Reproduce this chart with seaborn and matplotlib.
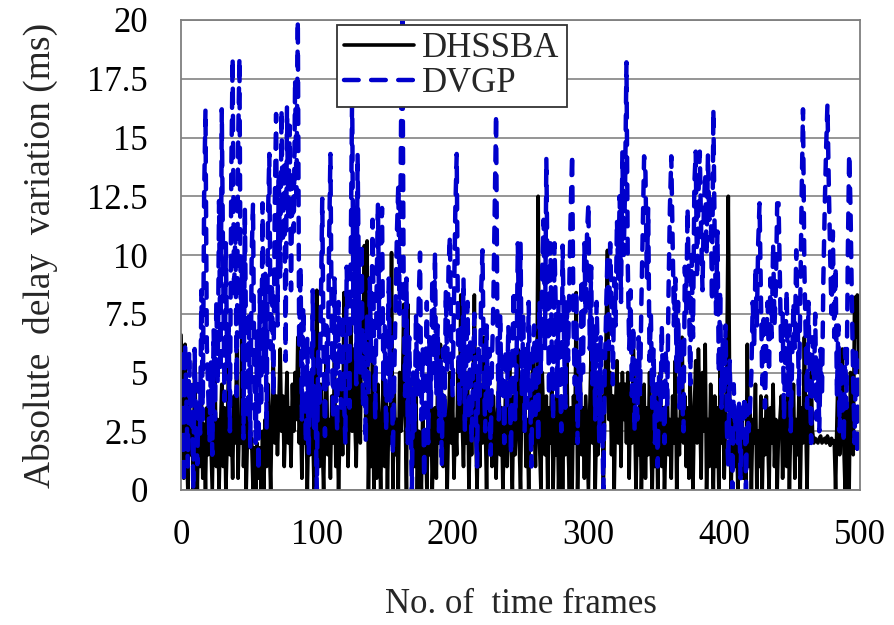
import numpy as np
import pandas as pd
import seaborn as sns
import matplotlib.pyplot as plt

# absolute delay variation per time frame (ms)
dhssba = [
    6.6, 3.5, 0.5, 6.2, 2.0, 0.0, 4.5, 1.5, 3.0, 0.0,
    5.5, 2.5, 0.0, 3.5, 1.0, 4.0, 0.5, 2.8, 0.0, 3.5,
    1.5, 4.0, 2.0, 0.0, 3.5, 5.0, 1.0, 3.0, 0.0, 2.5,
    4.5, 1.0, 3.5, 0.0, 2.0, 5.5, 1.5, 3.0, 0.5, 4.0,
    2.0, 6.0, 0.5, 3.0, 2.0, 8.4, 1.0, 3.5, 0.0, 2.5,
    4.0, 1.8, 2.2, 0.0, 1.8, 0.0, 2.0, 0.5, 1.8, 0.0,
    2.5, 0.0, 3.0, 1.0, 4.5, 2.0, 0.0, 3.5, 5.5, 2.0,
    4.0, 1.5, 3.5, 6.0, 2.5, 4.0, 1.0, 3.0, 5.0, 2.0,
    3.5, 1.0, 4.5, 2.5, 5.0, 3.0, 6.5, 2.0, 3.5, 0.5,
    4.0, 2.0, 3.5, 0.0, 3.0, 1.5, 4.0, 2.5, 0.0, 5.0,
    8.5, 3.0, 1.0, 4.5, 2.0, 0.0, 3.5, 6.0, 1.5, 3.0,
    0.5, 4.0, 2.0, 5.5, 1.0, 3.0, 0.0, 2.5, 4.5, 1.5,
    8.4, 3.0, 5.5, 1.0, 4.0, 7.0, 2.5, 6.0, 3.0, 1.0,
    4.5, 7.5, 2.0, 8.0, 5.0, 10.4, 3.0, 10.6, 0.0, 4.0,
    1.0, 5.5, 0.0, 3.5, 0.5, 4.5, 2.0, 0.0, 3.0, 5.0,
    1.0, 4.0, 0.0, 3.5, 2.0, 10.1, 0.0, 4.5, 1.5, 3.0,
    0.0, 5.0, 2.5, 4.0, 7.9, 3.5, 0.0, 7.9, 2.0, 4.5,
    0.5, 3.0, 1.0, 4.0, 0.0, 2.5, 1.5, 0.0, 3.5, 1.0,
    2.5, 0.0, 3.0, 1.5, 4.0, 0.0, 2.0, 3.5, 0.5, 5.0,
    2.0, 6.2, 3.5, 1.0, 4.0, 2.5, 0.0, 3.0, 5.0, 2.0,
    4.0, 0.5, 3.0, 1.5, 5.5, 2.5, 8.3, 3.0, 1.0, 4.5,
    2.0, 5.0, 0.0, 3.5, 1.5, 4.0, 8.3, 2.5, 0.0, 3.5,
    1.0, 4.0, 2.0, 6.5, 3.0, 0.0, 4.5, 2.0, 3.5, 1.0,
    4.0, 2.5, 0.5, 3.0, 5.0, 1.5, 3.5, 0.0, 2.5, 4.0,
    1.0, 3.0, 5.5, 2.0, 0.0, 4.0, 1.5, 3.5, 6.0, 2.0,
    0.0, 4.5, 2.5, 5.0, 1.0, 3.0, 0.0, 4.0, 2.0, 5.5,
    3.0, 1.0, 4.0, 12.5, 2.0, 0.0, 5.0, 3.0, 1.5, 4.0,
    0.0, 3.5, 2.0, 5.0, 0.0, 3.0, 1.5, 4.5, 0.0, 2.5,
    4.0, 0.0, 3.5, 1.5, 6.0, 2.0, 0.0, 3.5, 0.0, 4.0,
    2.0, 8.4, 0.0, 3.0, 5.0, 1.5, 3.5, 0.5, 4.0, 2.0,
    0.0, 3.5, 6.0, 2.0, 4.5, 0.0, 3.0, 1.5, 5.0, 2.5,
    4.0, 0.0, 3.5, 6.5, 10.2, 3.0, 5.0, 1.5, 4.0, 0.0,
    3.5, 5.5, 2.0, 4.5, 1.0, 5.0, 3.0, 4.5, 2.0, 5.0,
    0.5, 4.0, 2.0, 6.5, 3.5, 0.0, 3.0, 1.5, 4.0, 0.0,
    2.5, 4.5, 0.5, 3.5, 1.5, 5.0, 2.0, 0.0, 3.5, 1.0,
    4.0, 0.0, 2.5, 5.0, 1.0, 3.5, 0.0, 2.0, 4.5, 1.5,
    3.0, 0.5, 4.0, 2.0, 5.5, 0.0, 3.0, 1.5, 4.0, 6.5,
    2.0, 4.0, 1.0, 3.5, 0.5, 4.5, 2.0, 0.0, 3.5, 5.5,
    2.0, 6.0, 3.5, 0.5, 5.0, 2.5, 6.2, 0.0, 3.0, 1.0,
    4.5, 2.0, 0.0, 4.0, 1.0, 3.5, 0.0, 5.5, 2.0, 4.0,
    0.5, 3.0, 6.0, 12.5, 4.0, 0.0, 2.0, 3.5, 1.0, 3.0,
    0.0, 2.5, 1.5, 3.0, 0.5, 2.0, 0.0, 6.2, 1.0, 3.5,
    0.0, 3.0, 2.0, 4.5, 0.0, 2.5, 1.0, 4.0, 0.0, 3.0,
    1.5, 4.0, 2.5, 0.0, 3.5, 2.0, 4.5, 1.0, 3.0, 0.0,
    2.5, 3.0, 4.0, 0.5, 3.5, 2.0, 1.0, 4.0, 0.0, 3.0,
    2.0, 4.5, 0.5, 3.0, 1.5, 4.0, 0.0, 3.5, 2.0, 6.5,
    3.0, 0.0, 4.0, 2.0, 5.0, 2.5, 2.0, 2.2, 2.1, 2.0,
    2.2, 2.3, 2.0, 2.1, 2.2, 2.0, 2.3, 2.1, 1.9, 2.2,
    2.0, 2.1, 0.0, 3.0, 5.5, 1.5, 3.0, 6.0, 2.0, 0.0,
    3.5, 2.0, 0.0, 5.0, 3.0, 1.5, 8.2, 6.5, 8.3, 5.0,
]

dvgp = [
    5.8, 2.1, 0.3, 6.2, 3.5, 1.0, 5.9, 2.8, 4.6, 0.0,
    6.0, 3.2, 1.1, 4.5, 2.4, 8.5, 3.0, 12.5, 16.2, 6.1,
    4.2, 2.0, 5.5, 1.5, 6.8, 3.0, 8.0, 4.5, 12.3, 5.0,
    16.2, 9.5, 3.8, 10.5, 5.2, 7.0, 2.5, 13.5, 18.4, 8.2,
    11.0, 4.0, 14.5, 18.4, 6.5, 9.8, 2.2, 12.0, 5.5, 3.0,
    7.5, 1.8, 10.0, 12.2, 4.4, 2.0, 6.8, 0.8, 8.5, 3.5,
    12.2, 5.0, 9.2, 2.6, 11.5, 14.3, 6.0, 8.8, 4.0, 12.0,
    16.0, 7.0, 13.5, 9.0, 16.2, 10.5, 14.0, 5.5, 16.3, 11.5,
    15.5, 8.5, 13.2, 11.0, 17.5, 12.5, 20.0, 6.0, 9.5, 3.0,
    7.8, 4.5, 2.0, 6.5, 1.5, 5.0, 3.0, 8.5, 2.5, 4.0,
    0.0, 6.0, 3.5, 8.0, 12.4, 5.5, 2.3, 7.0, 4.5, 10.5,
    14.3, 6.5, 3.0, 9.0, 4.5, 2.5, 8.0, 5.0, 3.5, 7.5,
    4.0, 2.0, 9.5, 5.8, 3.5, 10.0, 17.0, 7.0, 12.0, 4.5,
    14.3, 8.5, 5.0, 10.5, 3.5, 6.8, 2.0, 7.5, 4.0, 9.0,
    5.5, 11.5, 7.0, 3.0, 8.5, 12.2, 6.5, 9.5, 12.0, 4.5,
    7.0, 2.5, 5.5, 9.0, 3.8, 6.5, 1.5, 4.8, 8.0, 11.0,
    13.0, 7.5, 15.5, 20.0, 8.0, 4.0, 9.0, 2.0, 6.5, 3.5,
    0.0, 5.0, 2.5, 7.5, 4.0, 8.0, 10.1, 3.0, 6.0, 0.5,
    4.5, 8.0, 2.0, 6.5, 3.5, 9.0, 5.0, 10.1, 4.0, 7.0,
    2.5, 5.5, 1.0, 6.0, 3.0, 8.5, 5.0, 9.5, 10.8, 6.0,
    4.0, 8.0, 12.0, 14.3, 6.5, 3.5, 7.0, 4.5, 9.0, 2.5,
    5.5, 8.0, 3.0, 6.5, 2.0, 5.0, 7.5, 3.5, 1.0, 6.0,
    4.0, 8.5, 10.2, 5.0, 2.5, 7.0, 3.5, 6.0, 1.5, 5.5,
    8.0, 12.0, 16.0, 6.5, 3.0, 7.5, 4.0, 5.5, 2.0, 6.0,
    3.5, 7.0, 4.5, 1.5, 6.0, 8.5, 3.0, 5.0, 10.5, 6.5,
    10.5, 4.0, 7.5, 2.5, 6.0, 3.5, 8.0, 4.5, 1.0, 5.5,
    7.0, 3.0, 6.5, 2.0, 8.0, 5.0, 9.5, 11.5, 6.0, 14.1,
    8.5, 4.0, 10.5, 6.0, 3.0, 10.5, 7.5, 4.0, 8.0, 5.0,
    2.5, 10.4, 6.5, 3.5, 8.0, 5.5, 9.0, 12.0, 14.3, 7.0,
    4.5, 8.5, 2.0, 6.0, 3.5, 9.0, 5.0, 10.5, 7.5, 11.0,
    12.2, 6.0, 9.5, 4.5, 7.0, 3.0, 8.0, 5.5, 2.0, 6.5,
    3.5, 0.0, 5.0, 7.5, 10.0, 6.0, 10.5, 8.0, 4.5, 9.0,
    7.0, 11.5, 9.0, 12.5, 8.0, 14.4, 10.0, 13.0, 18.2, 9.5,
    6.0, 8.5, 4.0, 7.0, 2.5, 5.5, 3.0, 6.5, 4.0, 8.0,
    11.0, 14.2, 13.5, 9.0, 12.0, 5.5, 7.5, 3.5, 6.0, 2.0,
    4.5, 1.0, 5.0, 3.0, 7.0, 4.0, 2.0, 6.0, 3.5, 8.5,
    12.0, 14.2, 10.5, 7.0, 9.0, 5.0, 8.0, 3.5, 6.5, 4.0,
    2.5, 9.5, 7.5, 12.0, 8.5, 4.5, 10.0, 6.5, 13.0, 14.4,
    9.0, 12.5, 14.4, 11.0, 8.5, 12.0, 13.5, 10.0, 14.3, 11.5,
    12.5, 8.0, 16.2, 10.5, 7.5, 11.0, 5.0, 8.5, 3.5, 6.5,
    4.0, 7.0, 2.5, 1.0, 5.5, 3.0, 0.0, 4.5, 2.5, 3.5,
    2.0, 3.8, 0.5, 3.5, 2.8, 4.0, 0.0, 3.6, 2.5, 3.5,
    5.0, 8.0, 6.0, 9.5, 7.0, 10.5, 12.2, 8.5, 4.5, 7.5,
    3.5, 6.5, 8.0, 5.0, 9.0, 6.5, 10.5, 7.0, 8.5, 12.2,
    12.2, 9.0, 5.5, 7.5, 3.0, 6.0, 8.5, 4.0, 7.0, 2.5,
    5.5, 8.0, 6.0, 10.2, 7.5, 4.0, 8.0, 12.5, 16.2, 9.5,
    6.5, 3.5, 8.0, 5.0, 2.0, 6.5, 4.0, 7.5, 3.0, 5.5,
    2.5, 6.0, 4.0, 9.0, 12.0, 14.5, 16.4, 13.0, 10.0, 7.5,
    11.0, 6.5, 9.5, 4.0, 7.0, 2.5, 5.5, 3.5, 2.0, 6.0,
    3.5, 10.0, 14.3, 12.0, 8.0, 4.5, 2.0, 6.0, 1.5, 5.5,
]

frames = np.arange(len(dhssba))
yticks = [0, 2.5, 5, 7.5, 10, 12.5, 15, 17.5, 20]
ytick_labels = ["0", "2.5", "5", "7.5", "10", "12.5", "15", "17.5", "20"]

df = pd.DataFrame({"frame": frames, "DHSSBA": dhssba, "DVGP": dvgp})

sns.set_style("white")
plt.rcParams['font.family'] = ['Liberation Serif', 'DejaVu Serif']

dash = (0, (3.3, 2.8))

fig = plt.figure(figsize=(8.94, 6.25), dpi=100)
ax = fig.add_axes([0.2025, 0.216, 0.7595, 0.752])

sns.lineplot(data=df, x="frame", y="DHSSBA", ax=ax, color="black",
             linewidth=2.6, label="DHSSBA")
sns.lineplot(data=df, x="frame", y="DVGP", ax=ax, color="#0000CC",
             linewidth=3.2, label="DVGP")
ax.lines[1].set_linestyle(dash)
ax.lines[1].set_dash_capstyle("round")

ax.set_xlim(0, 500)
ax.set_ylim(0, 20)
ax.set_xticks([0, 100, 200, 300, 400, 500])
ax.set_yticks(yticks)
ax.set_yticklabels(ytick_labels)
ax.yaxis.grid(True, color="#8c8c8c", linewidth=1.3)
ax.set_axisbelow(True)
for sp in ax.spines.values():
    sp.set_color("#7f7f7f")
    sp.set_linewidth(1.3)
ax.tick_params(axis="both", labelsize=25, colors="#7f7f7f", labelcolor="black",
               length=8, width=1.3, direction="out")
ax.tick_params(axis="y", pad=16)
ax.tick_params(axis="x", pad=13)

ax.set_xlabel("No. of  time frames", fontsize=25, labelpad=26)
ax.set_ylabel("Absolute  delay  variation (ms)", fontsize=27, labelpad=21)

leg = ax.legend(loc="upper left", bbox_to_anchor=(0.23, 0.989), fontsize=25,
                frameon=True, fancybox=False, framealpha=1, edgecolor="#333333",
                handlelength=2.0, borderpad=0.2, labelspacing=0.05,
                handletextpad=0.25, borderaxespad=0)
leg.get_frame().set_linewidth(1.3)
leg.get_lines()[1].set_linestyle(dash)
leg.get_lines()[1].set_dash_capstyle("round")

fig.savefig("out.png", dpi=100)
